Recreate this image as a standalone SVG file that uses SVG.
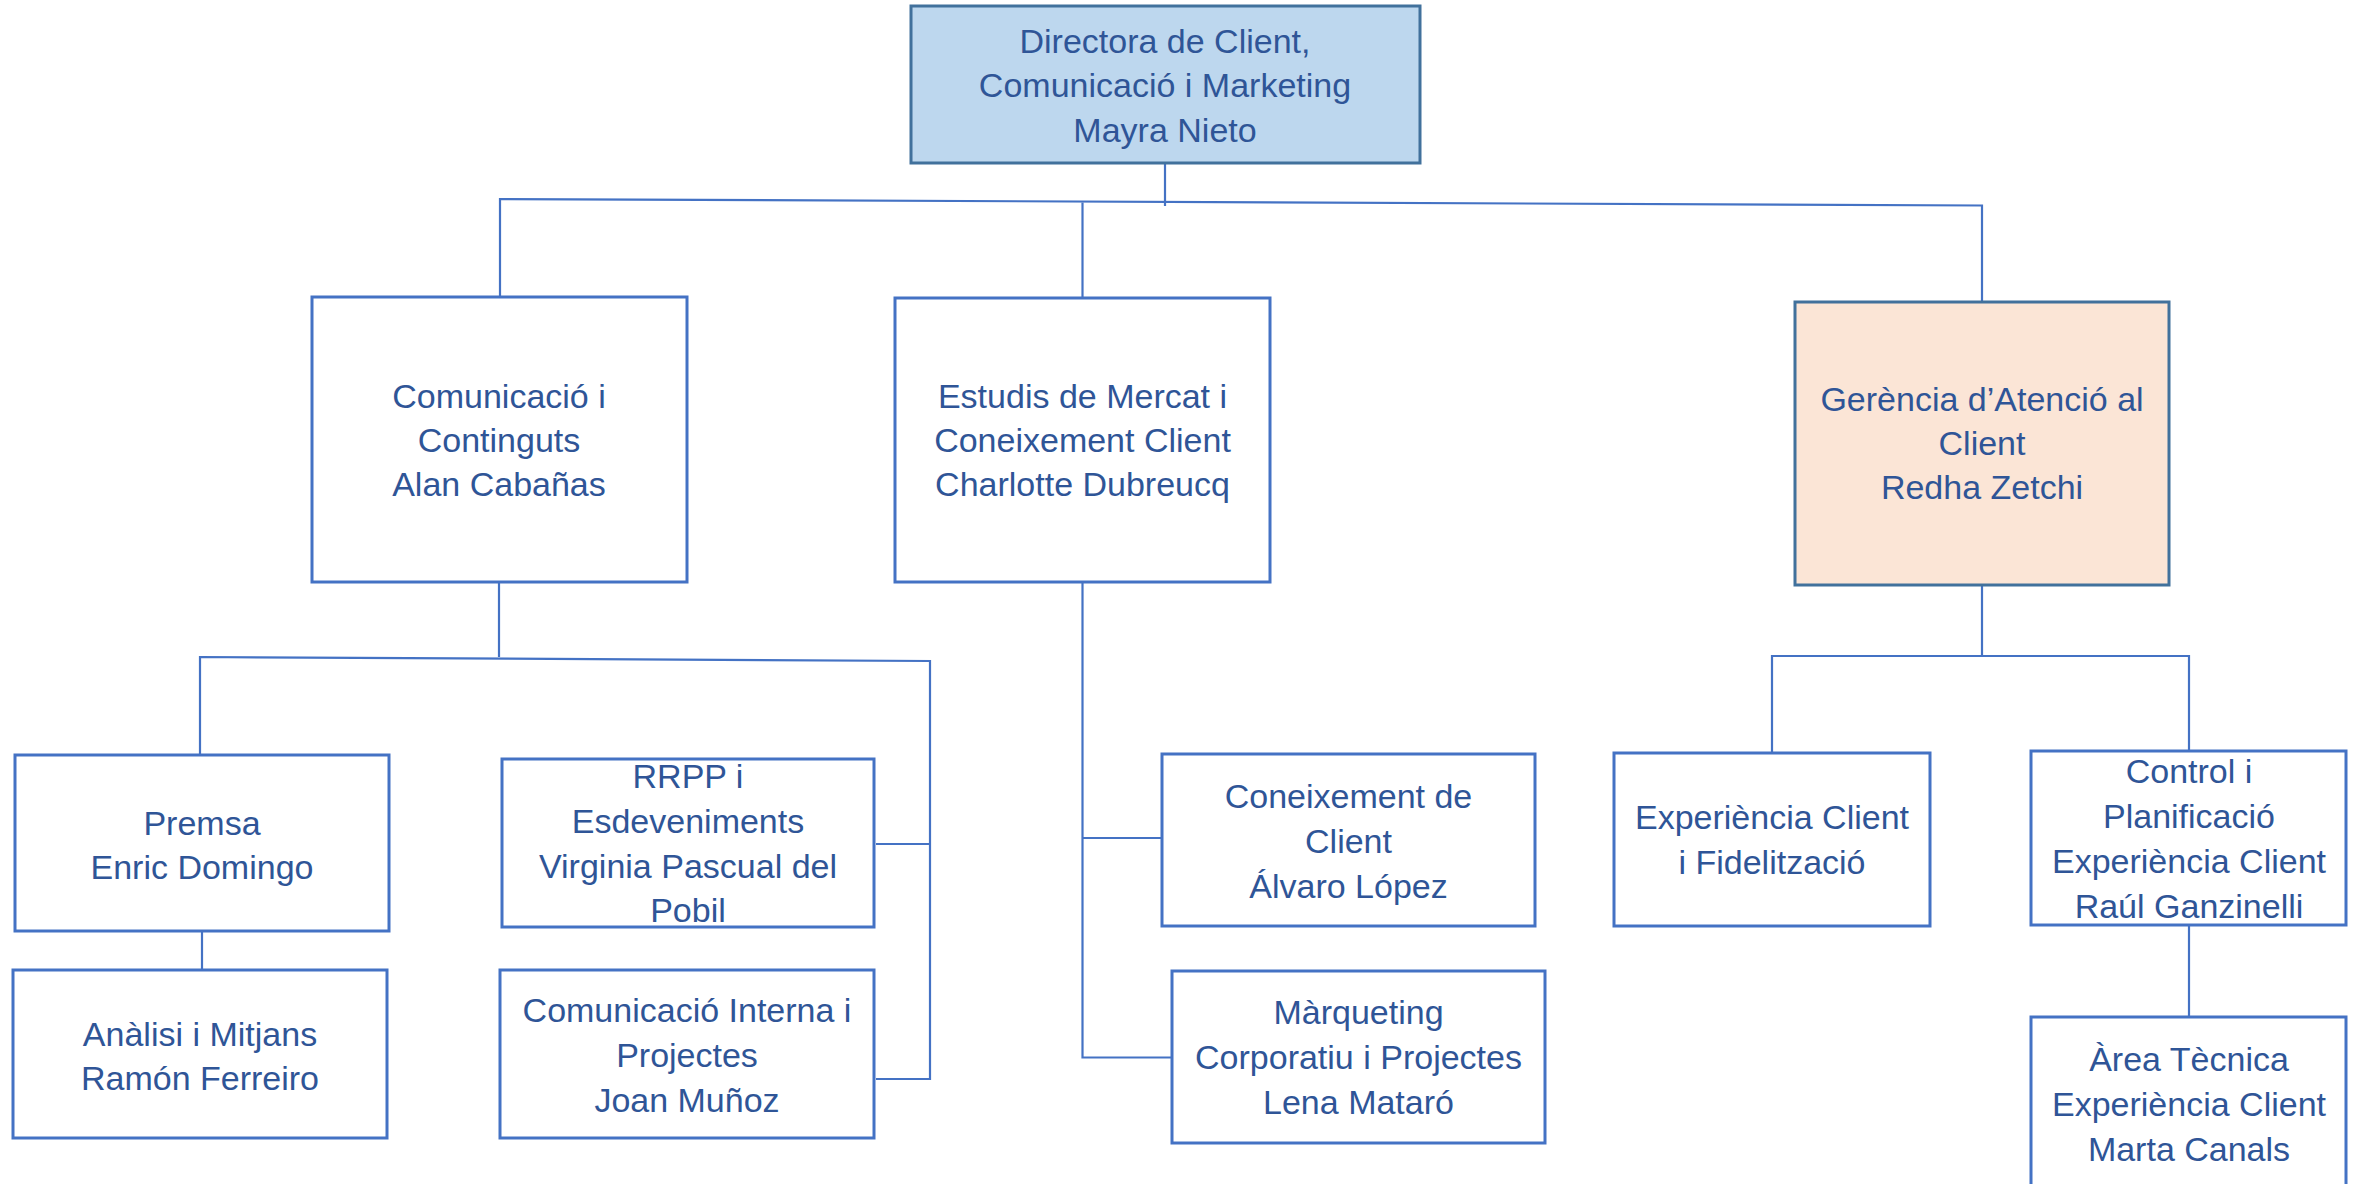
<svg xmlns="http://www.w3.org/2000/svg" width="2363" height="1184" viewBox="0 0 2363 1184">
<style>
.box{fill:#ffffff;stroke:#4472C4;stroke-width:3}
.top{fill:#BDD7EE;stroke:#41719C;stroke-width:3}
.ger{fill:#FBE5D6;stroke:#41719C;stroke-width:3}
.t{font-family:"Liberation Sans",Arial,sans-serif;font-size:34px;fill:#2F5597;text-anchor:middle}
.c{fill:none;stroke:#4472C4;stroke-width:2.2}
</style>
<rect width="2363" height="1184" fill="#ffffff"/>
<g id="connectors">
<path class="c" d="M1165,163 V206"/>
<path class="c" d="M500,297 V199 L1982,205.5 V302"/>
<path class="c" d="M1082.5,202.5 V298"/>
<path class="c" d="M499,582 V657"/>
<path class="c" d="M200,755 V657 L930,661 V1079 H876"/>
<path class="c" d="M930,844 H876"/>
<path class="c" d="M202,931 V970"/>
<path class="c" d="M1082.5,582 V1057.5 H1172"/>
<path class="c" d="M1082.5,838 H1162"/>
<path class="c" d="M1982,585 V656"/>
<path class="c" d="M1772,753 V656 H2189 V751"/>
<path class="c" d="M2189,925 V1017"/>
</g>
<g id="n-director">
<rect class="top" x="911" y="6" width="509" height="157"/>
<text class="t" x="1165" y="53">Directora de Client,</text>
<text class="t" x="1165" y="97">Comunicació i Marketing</text>
<text class="t" x="1165" y="142">Mayra Nieto</text>
</g>
<g id="n-comunicacio">
<rect class="box" x="312" y="297" width="375" height="285"/>
<text class="t" x="499" y="408">Comunicació i</text>
<text class="t" x="499" y="452">Continguts</text>
<text class="t" x="499" y="496">Alan Cabañas</text>
</g>
<g id="n-estudis">
<rect class="box" x="895" y="298" width="375" height="284"/>
<text class="t" x="1082.5" y="408">Estudis de Mercat i</text>
<text class="t" x="1082.5" y="452">Coneixement Client</text>
<text class="t" x="1082.5" y="496">Charlotte Dubreucq</text>
</g>
<g id="n-gerencia">
<rect class="ger" x="1795" y="302" width="374" height="283"/>
<text class="t" x="1982" y="411">Gerència d’Atenció al</text>
<text class="t" x="1982" y="455">Client</text>
<text class="t" x="1982" y="499">Redha Zetchi</text>
</g>
<g id="n-premsa">
<rect class="box" x="15" y="755" width="374" height="176"/>
<text class="t" x="202" y="835">Premsa</text>
<text class="t" x="202" y="879">Enric Domingo</text>
</g>
<g id="n-analisi">
<rect class="box" x="13" y="970" width="374" height="168"/>
<text class="t" x="200" y="1046">Anàlisi i Mitjans</text>
<text class="t" x="200" y="1090">Ramón Ferreiro</text>
</g>
<g id="n-rrpp">
<rect class="box" x="502" y="759" width="372" height="168"/>
<text class="t" x="688" y="788">RRPP i</text>
<text class="t" x="688" y="833">Esdeveniments</text>
<text class="t" x="688" y="878">Virginia Pascual del</text>
<text class="t" x="688" y="922">Pobil</text>
</g>
<g id="n-interna">
<rect class="box" x="500" y="970" width="374" height="168"/>
<text class="t" x="687" y="1022">Comunicació Interna i</text>
<text class="t" x="687" y="1067">Projectes</text>
<text class="t" x="687" y="1112">Joan Muñoz</text>
</g>
<g id="n-coneixement">
<rect class="box" x="1162" y="754" width="373" height="172"/>
<text class="t" x="1348.5" y="808">Coneixement de</text>
<text class="t" x="1348.5" y="853">Client</text>
<text class="t" x="1348.5" y="898">Álvaro López</text>
</g>
<g id="n-marqueting">
<rect class="box" x="1172" y="971" width="373" height="172"/>
<text class="t" x="1358.5" y="1024">Màrqueting</text>
<text class="t" x="1358.5" y="1069">Corporatiu i Projectes</text>
<text class="t" x="1358.5" y="1114">Lena Mataró</text>
</g>
<g id="n-experiencia">
<rect class="box" x="1614" y="753" width="316" height="173"/>
<text class="t" x="1772" y="829">Experiència Client</text>
<text class="t" x="1772" y="874">i Fidelització</text>
</g>
<g id="n-control">
<rect class="box" x="2031" y="751" width="315" height="174"/>
<text class="t" x="2189" y="783">Control i</text>
<text class="t" x="2189" y="828">Planificació</text>
<text class="t" x="2189" y="873">Experiència Client</text>
<text class="t" x="2189" y="918">Raúl Ganzinelli</text>
</g>
<g id="n-area">
<rect class="box" x="2031" y="1017" width="315" height="180"/>
<text class="t" x="2189" y="1071">Àrea Tècnica</text>
<text class="t" x="2189" y="1116">Experiència Client</text>
<text class="t" x="2189" y="1161">Marta Canals</text>
</g>
</svg>
